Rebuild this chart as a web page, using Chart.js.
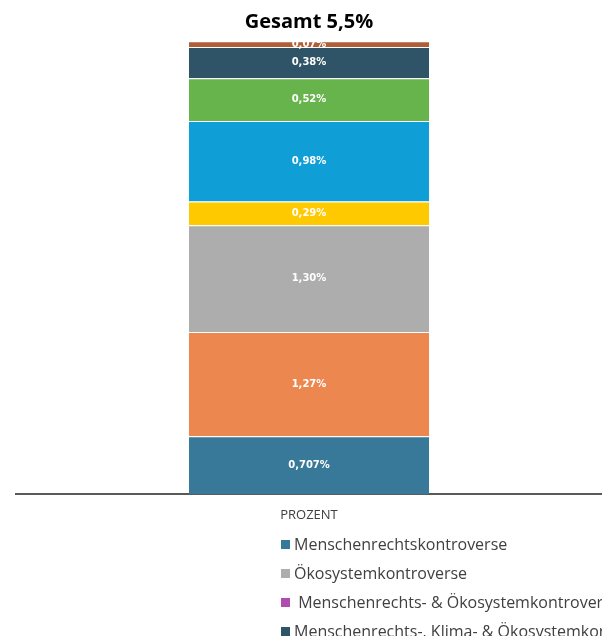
<!DOCTYPE html>
<html>
<head>
<meta charset="utf-8">
<script src="https://cdn.jsdelivr.net/npm/chart.js@4"></script>
<style>
  html, body { margin: 0; padding: 0; background: #fff; overflow: hidden; }
  #wrap { position: relative; width: 602px; height: 636px; }
  #legend {
    position: absolute; left: 281px; top: 533px; width: 321px; height: 103px;
    overflow: hidden; white-space: nowrap;
    font-family: 'Open Sans', sans-serif; font-size: 16px; color: #404040;
  }
  #legend div { height: 29px; line-height: 22px; }
  #legend span.box { display: inline-block; width: 9px; height: 9px; margin-right: 4px; vertical-align: 1px; }
</style>
</head>
<body>
<div id="wrap">
  <canvas id="chart" width="602" height="636"></canvas>
  <div id="legend"></div>
</div>
<script>
// Stacked from the bottom up
const categories = ['PROZENT'];
const seriesNames = [
    'Menschenrechtskontroverse',
    'Klimakontroverse',
    'Ökosystemkontroverse',
    'Menschenrechts- & Klimakontroverse',
    'Klima- & Ökosystemkontroverse',
    'Sonstige Kontroverse',
    'Menschenrechts-, Klima- & Ökosystemkontroverse',
    'Weitere Kontroverse'
];
const seriesValues = [0.707, 1.27, 1.30, 0.29, 0.98, 0.52, 0.38, 0.07];
const valueLabels = ['0,707%', '1,27%', '1,30%', '0,29%', '0,98%', '0,52%', '0,38%', '0,07%'];
const seriesColors = ['#38799a', '#ec8750', '#adadad', '#ffc900', '#0f9ed5', '#67b44c', '#2f5467', '#b05e38'];

// Legend entries shown below (cut off by the page edge)
const legendNames = [
    'Menschenrechtskontroverse',
    'Ökosystemkontroverse',
    '\u00a0Menschenrechts- & Ökosystemkontroverse',
    'Menschenrechts-, Klima- & Ökosystemkontroverse'
];
const legendColors = ['#38799a', '#adadad', '#b04cb0', '#2f5467'];

const segmentLabels = {
    id: 'segmentLabels',
    afterDatasetsDraw(chart) {
        const ctx = chart.ctx;
        ctx.save();
        ctx.font = 'bold 10px "DejaVu Sans", sans-serif';
        ctx.fillStyle = '#ffffff';
        ctx.textAlign = 'center';
        ctx.textBaseline = 'middle';
        chart.data.datasets.forEach((ds, i) => {
            const el = chart.getDatasetMeta(i).data[0];
            if (!el) return;
            ctx.fillText(valueLabels[i], el.x, (el.y + el.base) / 2);
        });
        ctx.restore();
    }
};

new Chart(document.getElementById('chart').getContext('2d'), {
    type: 'bar',
    data: {
        labels: categories,
        datasets: seriesValues.map((v, i) => ({
            label: seriesNames[i],
            data: [v],
            backgroundColor: seriesColors[i],
            borderColor: '#ffffff',
            borderWidth: { top: 1, left: 0, right: 0, bottom: 0 },
            borderSkipped: false,
            barPercentage: 0.41,
            categoryPercentage: 1
        }))
    },
    options: {
        responsive: false,
        animation: false,
        layout: { padding: { left: 16, right: 0, top: 0, bottom: 100 } },
        plugins: {
            legend: { display: false },
            tooltip: { enabled: false },
            title: {
                display: true,
                text: 'Gesamt 5,5%',
                color: '#000000',
                font: { family: "'Open Sans', sans-serif", size: 20, weight: 'bold' },
                padding: { top: 10, bottom: 7 }
            }
        },
        scales: {
            x: {
                stacked: true,
                grid: { display: false, drawTicks: false },
                border: { display: true, color: '#595959', width: 2 },
                ticks: {
                    color: '#404040',
                    padding: 13,
                    font: { family: "'Open Sans', sans-serif", size: 13 }
                }
            },
            y: {
                stacked: true,
                display: false,
                min: 0,
                max: 5.52
            }
        }
    },
    plugins: [segmentLabels]
});

const legend = document.getElementById('legend');
legendNames.forEach((name, i) => {
    const row = document.createElement('div');
    const box = document.createElement('span');
    box.className = 'box';
    box.style.background = legendColors[i];
    row.appendChild(box);
    row.appendChild(document.createTextNode(name));
    legend.appendChild(row);
});
</script>
</body>
</html>
